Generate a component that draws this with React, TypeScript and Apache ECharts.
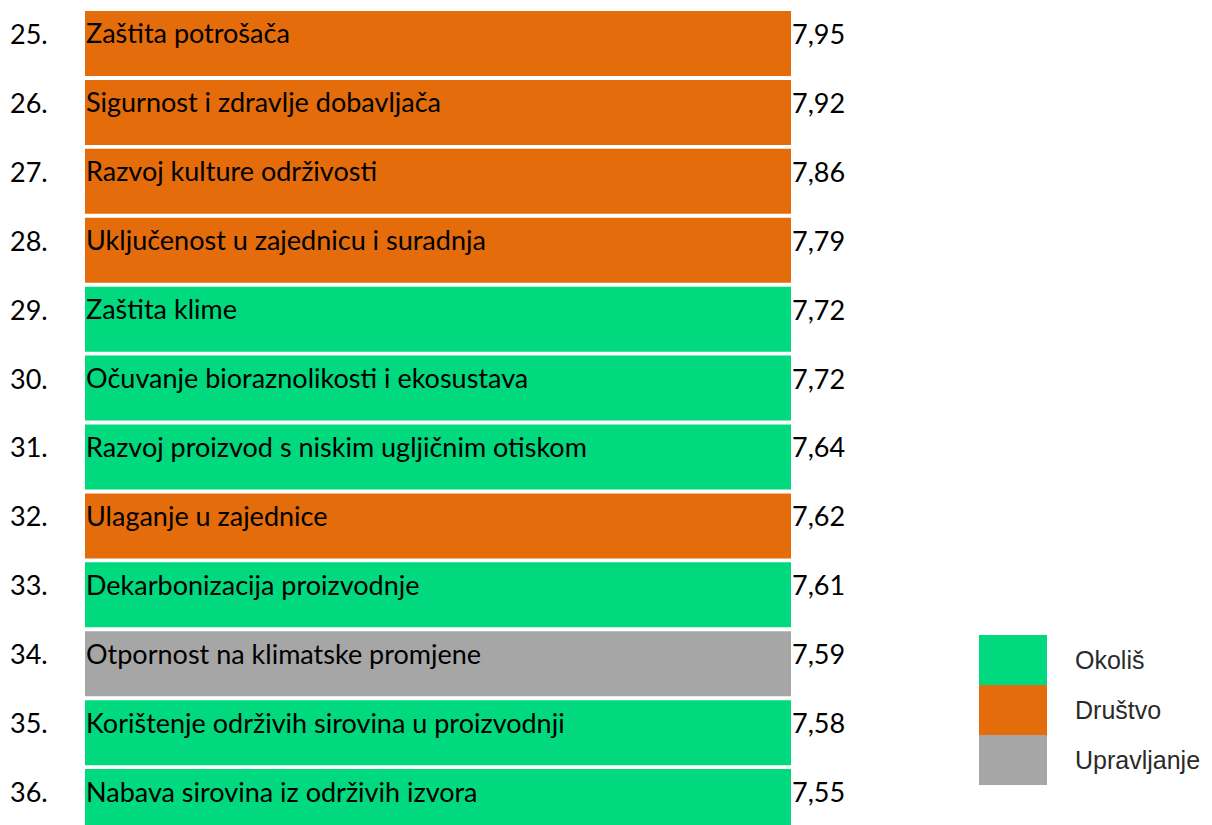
import React, { useEffect, useRef } from "react";
import * as echarts from "echarts";

const ranks = ["25.", "26.", "27.", "28.", "29.", "30.", "31.", "32.", "33.", "34.", "35.", "36."];
const topics = [
  "Zaštita potrošača",
  "Sigurnost i zdravlje dobavljača",
  "Razvoj kulture održivosti",
  "Uključenost u zajednicu i suradnja",
  "Zaštita klime",
  "Očuvanje bioraznolikosti i ekosustava",
  "Razvoj proizvod s niskim ugljičnim otiskom",
  "Ulaganje u zajednice",
  "Dekarbonizacija proizvodnje",
  "Otpornost na klimatske promjene",
  "Korištenje održivih sirovina u proizvodnji",
  "Nabava sirovina iz održivih izvora",
];
const scores = [7.95, 7.92, 7.86, 7.79, 7.72, 7.72, 7.64, 7.62, 7.61, 7.59, 7.58, 7.55];
const groups = [
  "Društvo", "Društvo", "Društvo", "Društvo", "Okoliš", "Okoliš",
  "Okoliš", "Društvo", "Okoliš", "Upravljanje", "Okoliš", "Okoliš",
];
const groupNames = ["Okoliš", "Društvo", "Upravljanje"];
const groupColors = ["#00D97E", "#E46C0A", "#A6A6A6"];
// every row is drawn as a full-length band
const fullBar = 1;

const mainFont = "Lato";
const mainSize = 27;

export default function App() {
  const ref = useRef<HTMLDivElement>(null);
  useEffect(() => {
    if (!ref.current) return;
    const chart = echarts.init(ref.current, null, { renderer: "svg" });
    const sideLabel = {
      align: "left",
      verticalAlign: "bottom",
      lineHeight: 20,
      fontFamily: mainFont,
      fontSize: mainSize,
      color: "#000",
    };
    chart.setOption({
      animation: false,
      backgroundColor: "#ffffff",
      grid: { left: 85, top: 9, width: 706, height: 827, outerBoundsMode: "none", containLabel: false },
      xAxis: { type: "value", min: 0, max: fullBar, show: false },
      yAxis: [
        {
          type: "category",
          data: ranks,
          inverse: true,
          position: "left",
          axisLine: { show: false },
          axisTick: { show: false },
          axisLabel: { ...sideLabel, margin: 75 },
        },
        {
          type: "category",
          data: scores.map((s) => s.toFixed(2).replace(".", ",")),
          inverse: true,
          position: "right",
          axisLine: { show: false },
          axisTick: { show: false },
          axisLabel: { ...sideLabel, margin: 1 },
        },
      ],
      legend: {
        data: groupNames,
        orient: "vertical",
        left: 979,
        top: 635,
        padding: 0,
        itemWidth: 68,
        itemHeight: 50,
        itemGap: 0,
        icon: "rect",
        selectedMode: false,
        textStyle: {
          fontFamily: "Liberation Sans",
          fontSize: 25,
          color: "#2a2a2a",
          padding: [0, 0, 0, 23],
        },
      },
      series: groupNames.map((g, gi) => ({
        type: "bar",
        name: g,
        stack: "rows",
        yAxisIndex: 0,
        barWidth: 65,
        itemStyle: { color: groupColors[gi] },
        label: {
          show: true,
          position: [1, 22],
          align: "left",
          verticalAlign: "middle",
          fontFamily: mainFont,
          fontSize: mainSize,
          color: "#000",
          formatter: (p: any) => topics[p.dataIndex],
        },
        data: topics.map((t, i) => (groups[i] === g ? { value: fullBar, name: t } : "-")),
      })),
    });
    return () => chart.dispose();
  }, []);
  return (
    <div
      ref={ref}
      style={{ position: "fixed", left: 0, top: 0, width: 1212, height: 825 }}
    />
  );
}
